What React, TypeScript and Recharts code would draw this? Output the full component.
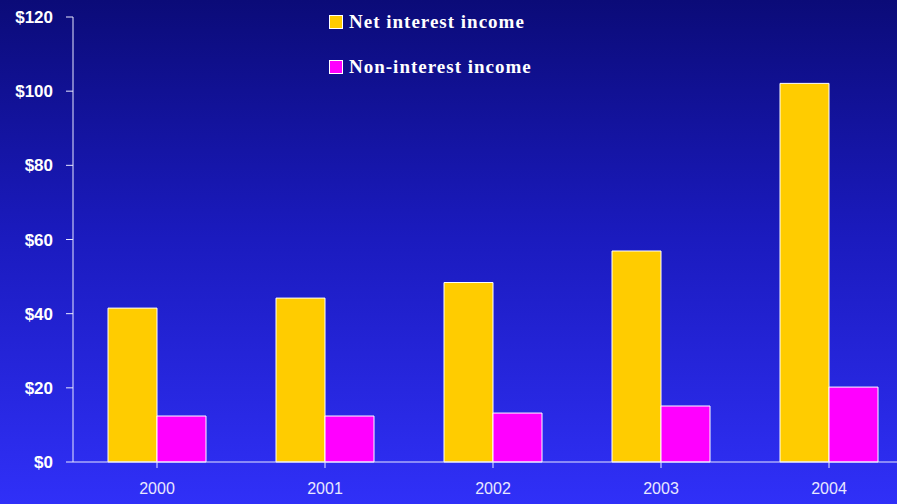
import { BarChart, Bar, XAxis, YAxis, Legend } from 'recharts';

const years = ['2000', '2001', '2002', '2003', '2004'];
const netInterest = [41.5, 44.2, 48.4, 56.9, 102.1];
const nonInterest = [12.4, 12.4, 13.2, 15.1, 20.2];
const yTicks = [0, 20, 40, 60, 80, 100, 120];

const data = years.map((year, i) => ({
  year,
  net: netInterest[i],
  non: nonInterest[i],
}));

const legendItems = [
  { label: 'Net interest income', color: '#ffcc00' },
  { label: 'Non-interest income', color: '#ff00ff' },
];

function LegendBox() {
  return (
    <div style={{ position: 'absolute', left: 329, top: 11 }}>
      {legendItems.map(item => (
        <div
          key={item.label}
          style={{ display: 'flex', alignItems: 'center', height: 22, marginBottom: 23 }}
        >
          <span
            style={{
              width: 12,
              height: 12,
              background: item.color,
              border: '1px solid #ffffff',
              marginRight: 6,
            }}
          />
          <span
            style={{
              fontFamily: '"Liberation Serif", serif',
              fontWeight: 'bold',
              fontSize: 19,
              letterSpacing: 1,
              color: '#ffffff',
            }}
          >
            {item.label}
          </span>
        </div>
      ))}
    </div>
  );
}

export default function App() {
  return (
    <div
      style={{
        position: 'absolute',
        left: 0,
        top: 0,
        width: 897,
        height: 504,
        overflow: 'hidden',
        background: 'linear-gradient(to bottom, #0b0b78 0%, #1a1abc 45%, #3030f8 100%)',
      }}
    >
      <BarChart
        width={925}
        height={504}
        data={data}
        margin={{ top: 17, right: 12, bottom: 0, left: 0 }}
        barGap={0}
        barSize={49}
      >
        <XAxis
          dataKey="year"
          height={42}
          stroke="#e8e8ff"
          tickSize={6}
          tickMargin={15}
          tick={{ fill: '#e8e8ff', fontSize: 16, fontFamily: '"Liberation Sans", Arial, sans-serif' }}
        />
        <YAxis
          width={73}
          domain={[0, 120]}
          ticks={yTicks}
          stroke="#e8e8ff"
          tickSize={7}
          tickMargin={13}
          tickFormatter={v => `$${v}`}
          tick={{
            fill: '#ffffff',
            fontSize: 17,
            fontWeight: 'bold',
            fontFamily: '"Liberation Sans Narrow", "Liberation Sans", Arial, sans-serif',
          }}
        />
        <Legend content={() => <LegendBox />} wrapperStyle={{ position: 'absolute', left: 0, top: 0 }} />
        <Bar dataKey="net" name="Net interest income" fill="#ffcc00" stroke="#ffffff" strokeWidth={1} isAnimationActive={false} />
        <Bar dataKey="non" name="Non-interest income" fill="#ff00ff" stroke="#ffffff" strokeWidth={1} isAnimationActive={false} />
      </BarChart>
    </div>
  );
}
